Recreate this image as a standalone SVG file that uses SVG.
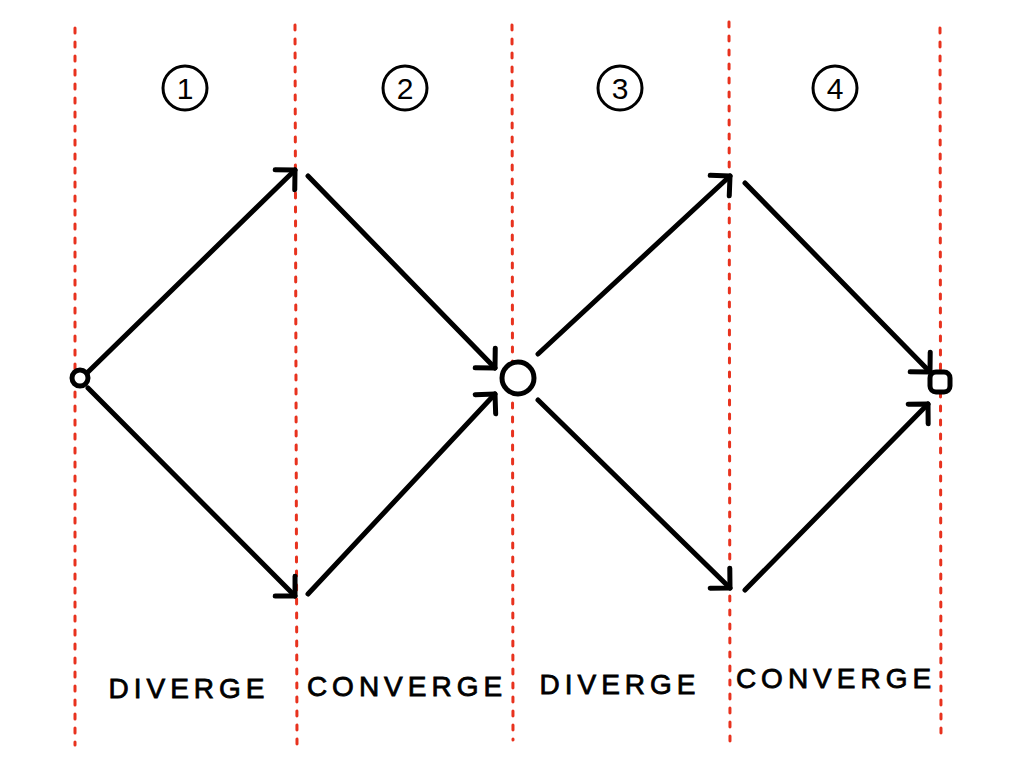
<svg xmlns="http://www.w3.org/2000/svg" width="1024" height="768" viewBox="0 0 1024 768">
<style>
.sep{stroke:#e8321e;stroke-width:3;stroke-dasharray:5 9;stroke-linecap:round;fill:none}
.ln{stroke:#000;stroke-width:5;stroke-linecap:round;fill:none}
.nd{stroke:#000;stroke-width:5;fill:#fff}
.num{stroke:#000;stroke-width:3;fill:none}
.t{font-family:"Liberation Sans",sans-serif;font-size:30px;text-anchor:middle}
.lb{font-family:"Liberation Sans",sans-serif;font-size:28px;text-anchor:middle;letter-spacing:5px;stroke:#000;stroke-width:0.8}
</style>
<defs>
<marker id="ah" viewBox="0 0 12 12" refX="10" refY="6" markerWidth="12" markerHeight="12" orient="auto" markerUnits="userSpaceOnUse" style="overflow:visible">
<path d="M-4,-8 L10,6 L-4,20" fill="none" stroke="#000" stroke-width="5" stroke-linecap="round" stroke-linejoin="round"/>
</marker>
</defs>
<rect width="1024" height="768" fill="#fff"/>
<g id="separators">
<line class="sep" x1="75" y1="28" x2="75" y2="745"/>
<line class="sep" x1="295" y1="25" x2="297" y2="745"/>
<line class="sep" x1="512" y1="25" x2="513" y2="740"/>
<line class="sep" x1="729" y1="22" x2="730" y2="745"/>
<line class="sep" x1="940" y1="28" x2="941" y2="740"/>
</g>
<g id="phase1"><circle class="num" cx="185" cy="88" r="22"/><text class="t" x="185" y="99">1</text></g>
<g id="phase2"><circle class="num" cx="405" cy="88" r="22"/><text class="t" x="405" y="99">2</text></g>
<g id="phase3"><circle class="num" cx="620" cy="88" r="22"/><text class="t" x="620" y="99">3</text></g>
<g id="phase4"><circle class="num" cx="835" cy="88" r="22"/><text class="t" x="835" y="99">4</text></g>
<g id="connectors">
<line class="ln" x1="88" y1="372" x2="295" y2="170" marker-end="url(#ah)"/>
<line class="ln" x1="308" y1="176" x2="495" y2="368" marker-end="url(#ah)"/>
<line class="ln" x1="88" y1="388" x2="295" y2="596" marker-end="url(#ah)"/>
<line class="ln" x1="308" y1="594" x2="495" y2="394" marker-end="url(#ah)"/>
<line class="ln" x1="538" y1="354" x2="730" y2="176" marker-end="url(#ah)"/>
<line class="ln" x1="745" y1="183" x2="930" y2="372" marker-end="url(#ah)"/>
<line class="ln" x1="538" y1="400" x2="730" y2="588" marker-end="url(#ah)"/>
<line class="ln" x1="745" y1="590" x2="928" y2="404" marker-end="url(#ah)"/>
</g>
<g id="start"><circle class="nd" cx="80" cy="378" r="8"/></g>
<g id="mid"><circle class="nd" cx="518" cy="378" r="16"/></g>
<g id="end"><rect class="nd" x="930" y="372" width="20" height="20" rx="6"/></g>
<g id="labels">
<text class="lb" x="189" y="698">DIVERGE</text>
<text class="lb" x="407" y="696">CONVERGE</text>
<text class="lb" x="620" y="694">DIVERGE</text>
<text class="lb" x="836" y="688">CONVERGE</text>
</g>
</svg>
